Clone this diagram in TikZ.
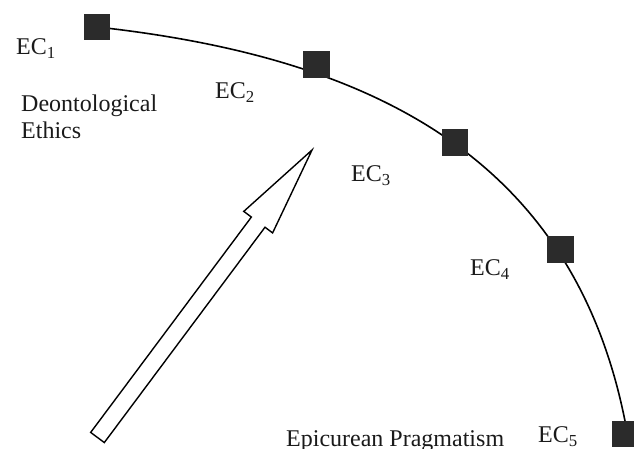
\documentclass[tikz,border=0pt]{standalone}
\usepackage{fontspec}
\setmainfont{Liberation Serif}
\definecolor{sqcol}{HTML}{2B2B2B}
\definecolor{txtcol}{HTML}{1A1A1A}
\begin{document}
\begin{tikzpicture}[x=1pt,y=1pt,
  sq/.style={fill=sqcol,draw=none,minimum size=26.5pt,inner sep=0pt},
  lbl/.style={anchor=base west,inner sep=0pt,text=txtcol,font=\fontsize{24}{27}\selectfont},
  arc/.style={line width=1.6pt,black},
  hollow/.style={line width=1.4pt,black,fill=white,line join=miter}]
\useasboundingbox (0,0) rectangle (634,449);
\clip (0,0) rectangle (634,449);
% square positions
\coordinate (c1) at (97,422);
\coordinate (c2) at (316.5,384.5);
\coordinate (c3) at (455,306.5);
\coordinate (c4) at (560.5,199.5);
\coordinate (c5) at (625,15);
\coordinate (c5top) at (625,28);
\coordinate (k1) at (365,392.5);
\coordinate (k2) at (571.4,296);
\draw[arc] (c1) .. controls (k1) and (k2) .. (c5top);
\node[sq] (ec1) at (c1) {};
\node[sq] (ec2) at (c2) {};
\node[sq] (ec3) at (c3) {};
\node[sq] (ec4) at (c4) {};
\node[sq] (ec5) at (c5) {};
% labels
\node[lbl] (l1) at (16,394.7) {EC\textsubscript{1}};
\node[lbl] (l2) at (215,350.7) {EC\textsubscript{2}};
\node[lbl] (l3) at (351,267.3) {EC\textsubscript{3}};
\node[lbl] (l4) at (470,173) {EC\textsubscript{4}};
\node[lbl] (l5) at (538,6.3) {EC\textsubscript{5}};
\node[lbl] (deon) at (21,337) {Deontological};
\node[lbl] (eth) at (21,310) {Ethics};
\node[lbl] (epi) at (286,2.3) {Epicurean Pragmatism};
% hollow block arrow
\begin{scope}[shift={(97.5,11.5)},rotate=53.27]
\draw[hollow] (0,-8.5) -- (268.7,-8.5) -- (268.7,-18) -- (358.7,0)
  -- (268.7,18) -- (268.7,8.5) -- (0,8.5) -- cycle;
\end{scope}
\end{tikzpicture}
\end{document}
